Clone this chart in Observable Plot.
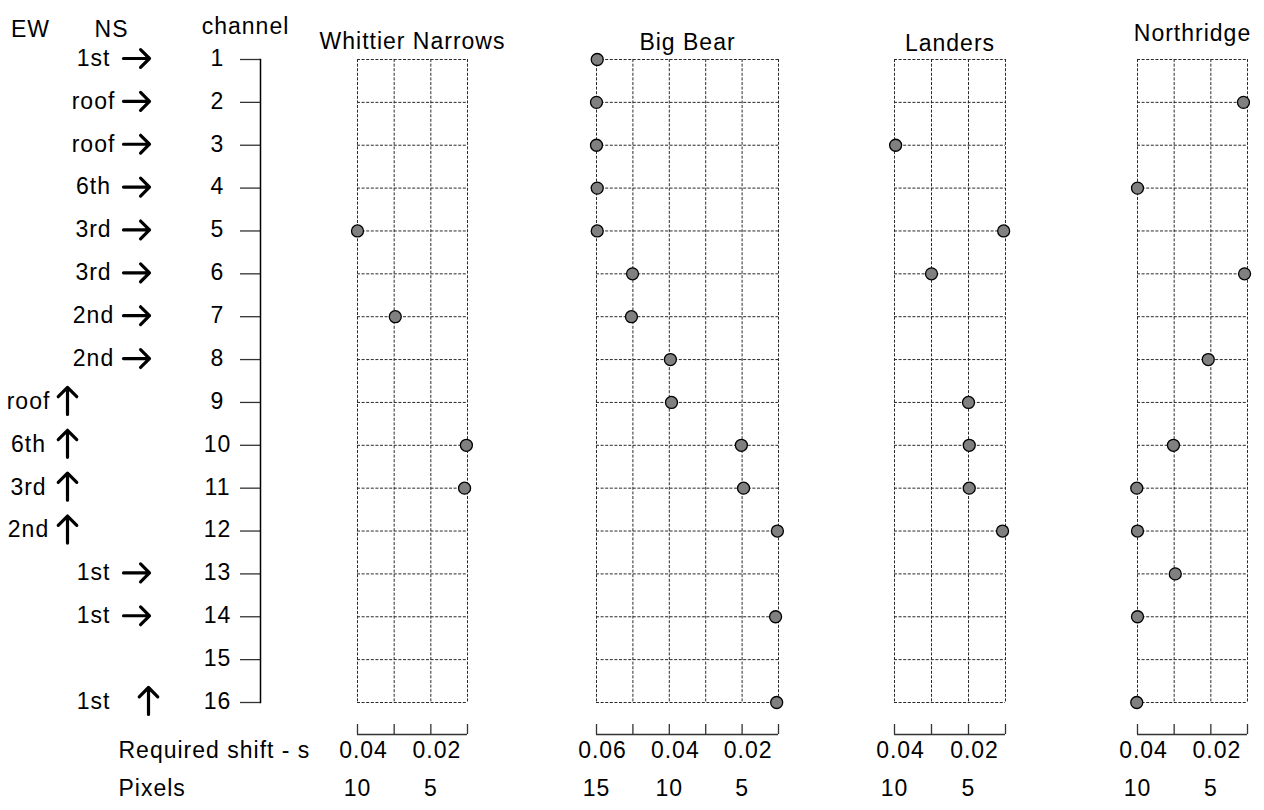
<!DOCTYPE html>
<html>
<head>
<meta charset="utf-8">
<script src="https://cdn.jsdelivr.net/npm/d3@7"></script>
<script src="https://cdn.jsdelivr.net/npm/@observablehq/plot@0.6"></script>
<style>
html, body { margin: 0; padding: 0; background: #fff; }
#chart { position: relative; width: 1264px; height: 810px; overflow: hidden; background: #fff; }
#chart svg { position: absolute; top: 0; }
</style>
</head>
<body>
<div id="chart"></div>
<script>
// ---------------- data ----------------
const channels = [1, 2, 3, 4, 5, 6, 7, 8, 9, 10, 11, 12, 13, 14, 15, 16];
const floors = ["1st", "roof", "roof", "6th", "3rd", "3rd", "2nd", "2nd", "roof", "6th", "3rd", "2nd", "1st", "1st", "", "1st"];
const sensorColumns = ["NS", "NS", "NS", "NS", "NS", "NS", "NS", "NS", "EW", "EW", "EW", "EW", "NS", "NS", null, "NS"];
const arrowDirs = ["right", "right", "right", "right", "right", "right", "right", "right", "up", "up", "up", "up", "right", "right", null, "up"];
const columnHeaders = ["EW", "NS"];

const panelNames = ["Whittier Narrows", "Big Bear", "Landers", "Northridge"];
const whittierShift = [null, null, null, null, 0.04, null, 0.0297, null, null, 0.0103, 0.0108, null, null, null, null, null];
const bigBearShift = [0.0598, 0.06, 0.06, 0.0598, 0.0598, 0.0501, 0.0504, 0.0397, 0.0394, 0.0202, 0.0196, 0.0103, null, 0.0108, null, 0.0105];
const landersShift = [null, null, 0.0397, null, 0.0105, 0.03, null, null, 0.02, 0.0198, 0.0198, 0.0108, null, null, null, null];
const northridgeShift = [null, 0.0111, null, 0.04, null, 0.0108, null, 0.0207, null, 0.0302, 0.0402, 0.04, 0.0297, 0.04, null, 0.0402];
const panelShifts = [whittierShift, bigBearShift, landersShift, northridgeShift];

const shiftTicks = [
  [0.04, 0.03, 0.02, 0.01],
  [0.06, 0.05, 0.04, 0.03, 0.02, 0.01],
  [0.04, 0.03, 0.02, 0.01],
  [0.04, 0.03, 0.02, 0.01]
];
const shiftLabels = [[0.04, 0.02], [0.06, 0.04, 0.02], [0.04, 0.02], [0.04, 0.02]];
const pixelLabels = [["10", "5"], ["15", "10", "5"], ["10", "5"], ["10", "5"]];
const axisTitles = ["Required shift - s", "Pixels"];

// ---------------- layout / style ----------------
const FONT = "'Liberation Sans', Arial, Helvetica, sans-serif";
const baseStyle = {fontFamily: FONT, fontSize: "23px", letterSpacing: "1px", color: "#000", background: "transparent", overflow: "visible"};
const TOP = 59, GRID_BOTTOM = 702, H = 810;
const panelLeft = [357, 596, 894, 1137];
const panelRight = [467, 778, 1005, 1247];
const titleDy = [-26.4, -25.4, -24.4, -34.4];
const gridStroke = "#2a2a2a";
const dash = "3,1.6";

const root = document.getElementById("chart");

// ---------------- left labels / channel axis ----------------
const leftRows = channels.map((c, i) => ({channel: c, floor: floors[i], col: sensorColumns[i], dir: arrowDirs[i]}))
  .filter(d => d.col);

const left = Plot.plot({
  width: 330, height: H,
  marginTop: TOP, marginBottom: H - GRID_BOTTOM, marginLeft: 240, marginRight: 70,
  x: {type: "point", domain: columnHeaders, range: [30, 111], padding: 0, axis: null},
  y: {domain: [channels[0], channels[channels.length - 1]], reverse: true, axis: null},
  style: baseStyle,
  marks: [
    Plot.tickY(channels, {y: d => d, stroke: "#333", strokeWidth: 1.3}),
    Plot.frame({anchor: "right", stroke: "#000", strokeWidth: 1.5}),
    Plot.text(channels, {y: d => d, text: d => String(d), frameAnchor: "left", dx: -23, dy: -1, textAnchor: "middle"}),
    Plot.text(columnHeaders, {x: d => d, text: d => d, frameAnchor: "top", dy: -38.4}),
    Plot.text(["channel"], {text: d => d, frameAnchor: "top-left", textAnchor: "middle", dx: 5, dy: -41.4}),
    Plot.text(leftRows.filter(d => d.col === "NS"), {x: "col", y: "channel", text: "floor", dx: -18, dy: -1}),
    Plot.text(leftRows.filter(d => d.col === "EW"), {x: "col", y: "channel", text: "floor", dx: -2, dy: -1}),
    Plot.vector(leftRows.filter(d => d.dir === "right"), {x: "col", y: "channel", rotate: 90, length: 26, dx: 25, dy: -1, strokeWidth: 3.2, r: 6, stroke: "#000"}),
    Plot.vector(leftRows.filter(d => d.dir === "up"), {x: "col", y: "channel", rotate: 0, length: 27, dx: 37, dy: -1.5, strokeWidth: 3.2, r: 6, stroke: "#000"}),
    Plot.text([axisTitles[0]], {text: d => d, frameAnchor: "bottom-left", textAnchor: "start", dx: -122, dy: 55.6}),
    Plot.text([axisTitles[1]], {text: d => d, frameAnchor: "bottom-left", textAnchor: "start", dx: -122, dy: 93.6})
  ]
});
left.style.left = "0px";
root.appendChild(left);

// ---------------- panels ----------------
panelNames.forEach((name, k) => {
  const mL = 50, mR = k === 3 ? 17 : 50;
  const ticks = shiftTicks[k];
  const xdom = [ticks[0], ticks[ticks.length - 1]];
  const data = channels.map((c, i) => ({channel: c, shift: panelShifts[k][i]})).filter(d => d.shift != null);
  const labels = shiftLabels[k].map((s, j) => ({shift: s, px: pixelLabels[k][j]}));
  const frameH = GRID_BOTTOM - TOP;
  const svg = Plot.plot({
    width: panelRight[k] - panelLeft[k] + mL + mR, height: H,
    marginTop: TOP, marginBottom: H - GRID_BOTTOM, marginLeft: mL, marginRight: mR,
    x: {domain: xdom, axis: null},
    y: {domain: [channels[0], channels[channels.length - 1]], reverse: true, axis: null},
    style: baseStyle,
    marks: [
      Plot.ruleY(channels, {y: d => d, x1: () => xdom[0], x2: () => xdom[1], stroke: gridStroke, strokeDasharray: dash, strokeWidth: 1}),
      Plot.ruleX(ticks, {x: d => d, stroke: gridStroke, strokeDasharray: dash, strokeWidth: 1}),
      Plot.ruleX(ticks, {x: d => d, insetTop: frameH - 10, dy: 32, stroke: "#333", strokeWidth: 1.3}),
      Plot.ruleY([channels[channels.length - 1]], {y: d => d, x1: () => xdom[0], x2: () => xdom[1], dy: 32, stroke: "#333", strokeWidth: 1.5}),
      Plot.dot(data, {x: "shift", y: "channel", r: 6, fill: "#808080", stroke: "#000", strokeWidth: 1.3}),
      Plot.text([name], {text: d => d, frameAnchor: "top", dy: titleDy[k]}),
      Plot.text(labels, {x: "shift", text: d => d.shift.toFixed(2), frameAnchor: "bottom", dy: 55.6, dx: 6}),
      Plot.text(labels, {x: "shift", text: "px", frameAnchor: "bottom", dy: 93.6})
    ]
  });
  svg.style.left = (panelLeft[k] - mL) + "px";
  root.appendChild(svg);
});
</script>
</body>
</html>
